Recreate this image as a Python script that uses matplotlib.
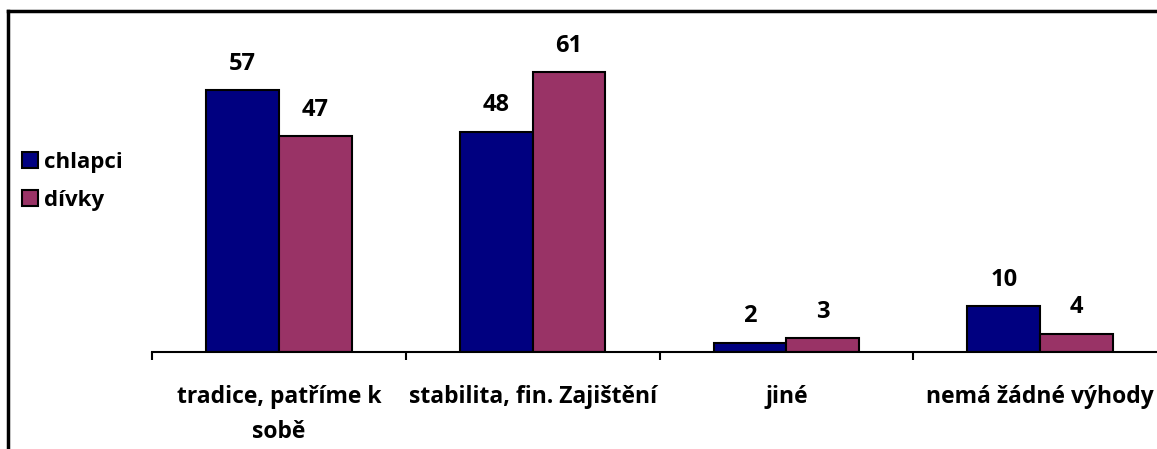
import numpy as np
import matplotlib
matplotlib.use("Agg")
import matplotlib.pyplot as plt
from matplotlib.lines import Line2D

plt.rcParams['font.family'] = ['Open Sans', 'DejaVu Sans']

#data
categories = ["tradice, patříme k\nsobě", "stabilita, fin. Zajištění", "jiné", "nemá žádné výhody"]
chlapci = [57, 48, 2, 10]
divky = [47, 61, 3, 4]
series_names = ["chlapci", "dívky"]

fig = plt.figure(figsize=(11.57, 4.49), dpi=100)
# axes runs a bit past the right edge, the original is cropped there
ax = fig.add_axes([152/1157, 1 - 352/449, 1015/1157, (352 - 30.7)/449])

x = np.arange(len(categories))
w = 0.287
b1 = ax.bar(x - w/2, chlapci, w, color="#000080", edgecolor="black", linewidth=1.5, label=series_names[0])
b2 = ax.bar(x + w/2, divky, w, color="#993366", edgecolor="black", linewidth=1.5, label=series_names[1])

for bars in (b1, b2):
    for r in bars:
        ax.annotate(str(int(r.get_height())), (r.get_x() + r.get_width()/2, r.get_height()),
                    xytext=(0, 19), textcoords="offset points", ha="center", va="center",
                    fontsize=17, fontweight="bold")

ax.set_xlim(-0.5, len(categories) - 0.5)
ax.set_ylim(0, 70)
ax.set_yticks([])
for s in ("top", "right", "left"):
    ax.spines[s].set_visible(False)
ax.spines["bottom"].set_linewidth(1.5)

ax.set_xticks(x)
ax.set_xticklabels(categories, fontsize=16.5, fontweight="bold", linespacing=1.6, va="top")
ax.tick_params(axis="x", which="major", length=0, pad=24)
ax.set_xticks(np.arange(len(categories) + 1) - 0.5, minor=True)
ax.tick_params(axis="x", which="minor", length=6, width=1.5, direction="out")

leg = fig.legend(handles=[b1, b2], loc="upper left", bbox_to_anchor=(22/1157, 1 - 152/449),
                 frameon=False, prop={"size": 16, "weight": "bold"},
                 handlelength=0.7, handleheight=0.7, handletextpad=0.3, labelspacing=0.75,
                 borderaxespad=0, borderpad=0)

# outer frame of the chart (only top and left visible in the crop)
fig.add_artist(Line2D([8/1157, 8/1157], [0, 1 - 11/449], color="black", linewidth=2.5, transform=fig.transFigure))
fig.add_artist(Line2D([8/1157, 1], [1 - 11/449, 1 - 11/449], color="black", linewidth=2.5, transform=fig.transFigure))

fig.savefig("out.png", dpi=100)
